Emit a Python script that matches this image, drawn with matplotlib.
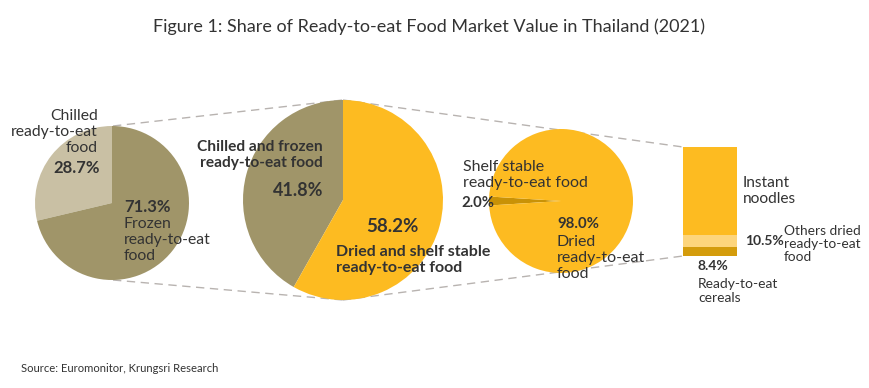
import matplotlib
matplotlib.use("Agg")
import matplotlib.pyplot as plt

# ---- data ----
pie1_labels = ["Chilled ready-to-eat food", "Frozen ready-to-eat food"]
pie1_values = [28.7, 71.3]
pie2_labels = ["Chilled and frozen ready-to-eat food", "Dried and shelf stable ready-to-eat food"]
pie2_values = [41.8, 58.2]
pie3_labels = ["Shelf stable ready-to-eat food", "Dried ready-to-eat food"]
pie3_values = [2.0, 98.0]
bar_labels = ["Ready-to-eat cereals", "Others dried ready-to-eat food", "Instant noodles"]
bar_values = [8.4, 10.5, 79.1]

W, H = 870, 388
plt.rcParams['font.family'] = ['Lato', 'DejaVu Sans']
TXT = '#333333'
OLIVE = '#a09569'
BEIGE = '#c9c0a4'
YELLOW = '#fdbb21'
DARKGOLD = '#c99206'
LIGHTY = '#fdd57c'
BARDARK = '#d49c0c'

fig = plt.figure(figsize=(W / 100, H / 100), dpi=100)
ax = fig.add_axes([0, 0, 1, 1])

def Y(y):
    return H - y

# dashed connectors
lc = '#b8b3b0'
kw = dict(color=lc, lw=1.0, dashes=(6, 4), zorder=0)
ax.plot([113, 343], [Y(126), Y(100)], **kw)
ax.plot([113, 343], [Y(280), Y(300)], **kw)
ax.plot([343, 683], [Y(100), Y(147)], **kw)
ax.plot([343, 683], [Y(300), Y(256)], **kw)

wp = dict(linewidth=0)
ax.pie(pie1_values, colors=[BEIGE, OLIVE], startangle=90, counterclock=True,
       center=(112, Y(203)), radius=77, wedgeprops=wp, frame=True)
ax.pie(pie2_values, colors=[OLIVE, YELLOW], startangle=90, counterclock=True,
       center=(343, Y(200)), radius=100, wedgeprops=wp, frame=True)
ax.pie(pie3_values, colors=[DARKGOLD, YELLOW], startangle=180 - pie3_values[0] * 1.8,
       counterclock=True, center=(561, Y(201)), radius=72, wedgeprops=wp, frame=True)

ax.set_xlim(0, W)
ax.set_ylim(0, H)
ax.set_aspect('auto')
ax.axis('off')

# stacked bar
axb = fig.add_axes([683 / W, (H - 256) / H, 54 / W, 109 / H])
bottom = 0
for v, c in zip(bar_values, [BARDARK, LIGHTY, YELLOW]):
    axb.bar(0, v, bottom=bottom, width=1, color=c, linewidth=0)
    bottom += v
axb.set_xlim(-0.5, 0.5)
axb.set_ylim(0, sum(bar_values))
axb.axis('off')

# title & source
fig.text(429 / W, 1 - 27 / H, "Figure 1: Share of Ready-to-eat Food Market Value in Thailand (2021)",
         ha='center', va='center', fontsize=13, color=TXT)
fig.text(21 / W, 1 - 368 / H, "Source: Euromonitor, Krungsri Research",
         ha='left', va='center', fontsize=8.1, color=TXT)

def t(x, y, s, ha='left', size=10, bold=False, ls=1.1):
    ax.text(x, Y(y), s, ha=ha, va='center', fontsize=size, color=TXT,
            fontweight='bold' if bold else 'normal', linespacing=ls, zorder=5)

# pie 1
t(98, 132, "Chilled\nready-to-eat\nfood", ha='right', size=11.3, ls=1.2)
t(100, 168, f"{pie1_values[0]:.1f}%", ha='right', size=12, bold=True)
t(124, 207, f"{pie1_values[1]:.1f}%", size=12, bold=True)
t(124, 240, "Frozen\nready-to-eat\nfood", size=11.3, ls=1.2)

# pie 2
t(323, 155, "Chilled and frozen\nready-to-eat food", ha='right', size=11.2, bold=True, ls=1.17)
t(323, 190, f"{pie2_values[0]:.1f}%", ha='right', size=13, bold=True)
t(392, 227, f"{pie2_values[1]:.1f}%", ha='center', size=13.5, bold=True)
t(336, 260, "Dried and shelf stable\nready-to-eat food", size=11.5, bold=True, ls=1.17)

# pie 3
t(463, 175, "Shelf stable\nready-to-eat food", size=11.5, ls=1.2)
t(461, 203, f"{pie3_values[0]:.1f}%", size=10.7, bold=True)
t(557, 224, f"{pie3_values[1]:.1f}%", size=10.8, bold=True)
t(557, 258, "Dried\nready-to-eat\nfood", size=11.5, ls=1.2)

# bar
t(710, 192, f"{bar_values[2]:.1f}%", ha='center', size=10.6, bold=True)
t(743, 191, "Instant\nnoodles", size=11.2, ls=1.2)
t(745, 241, f"{bar_values[1]:.1f}%", size=10, bold=True)
t(784, 244, "Others dried\nready-to-eat\nfood", size=9.9, ls=1.14)
t(698, 266, f"{bar_values[0]:.1f}%", size=10, bold=True)
t(698, 291, "Ready-to-eat\ncereals", size=10, ls=1.14)

fig.savefig("out.png", dpi=100)
